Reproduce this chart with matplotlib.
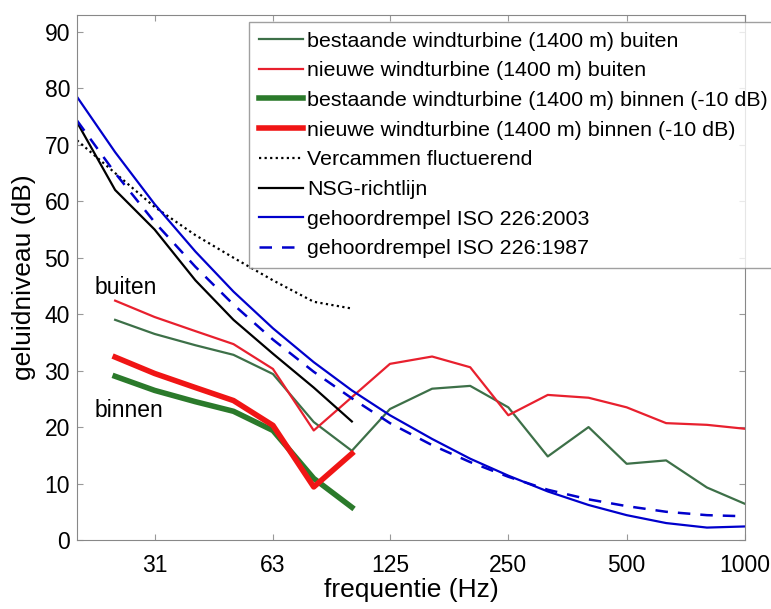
import matplotlib.pyplot as plt

plt.rcParams['font.family'] = ['Liberation Sans', 'DejaVu Sans']

# tertsbanden (Hz)
freq = [20, 25, 31.5, 40, 50, 63, 80, 100, 125, 160, 200, 250, 315, 400, 500, 630, 800, 1000]

# windturbines buiten, 25 Hz - 1000 Hz
freq_wt = freq[1:]
bestaand_buiten = [39.0, 36.5, 34.5, 32.8, 29.4, 20.9, 15.8, 23.2, 26.8, 27.3, 23.5, 14.8, 20.0, 13.5, 14.1, 9.3, 6.4]
nieuw_buiten = [42.4, 39.5, 37.0, 34.7, 30.3, 19.4, 25.3, 31.2, 32.5, 30.6, 22.1, 25.7, 25.2, 23.5, 20.7, 20.4, 19.7]

# binnen (-10 dB), 25 Hz - 100 Hz
freq_binnen = freq[1:8]
bestaand_binnen = [v - 10 for v in bestaand_buiten[:7]]
nieuw_binnen = [v - 10 for v in nieuw_buiten[:7]]

# criteria, 20 Hz - 100 Hz
freq_crit = freq[:8]
vercammen = [70.8, 65.0, 59.0, 54.0, 50.0, 46.0, 42.2, 41.0]
nsg = [74, 62, 55, 46, 39, 33, 27, 21]

# gehoordrempels
iso2003 = [78.5, 68.7, 59.5, 51.1, 44.0, 37.5, 31.5, 26.5, 22.1, 17.9, 14.4, 11.4, 8.6, 6.2, 4.4, 3.0, 2.2, 2.4]
iso1987 = [74.3, 65.0, 56.3, 48.4, 41.7, 35.5, 29.8, 25.1, 20.7, 16.8, 13.8, 11.2, 8.9, 7.2, 6.0, 5.0, 4.4, 4.2]

xticks = [31.5, 63, 125, 250, 500, 1000]
xticklabels = ['31', '63', '125', '250', '500', '1000']

fig = plt.figure(figsize=(7.71, 6.09), dpi=100)
ax = fig.add_axes([0.0999, 0.1133, 0.8664, 0.8621])

groen_dun = '#3d7048'
groen_dik = '#2b7a2b'
rood_dun = '#e8202e'
rood_dik = '#f01515'

ax.plot(freq_wt, bestaand_buiten, color=groen_dun, lw=1.6, label='bestaande windturbine (1400 m) buiten')
ax.plot(freq_wt, nieuw_buiten, color=rood_dun, lw=1.6, label='nieuwe windturbine (1400 m) buiten')
ax.plot(freq_binnen, bestaand_binnen, color=groen_dik, lw=4, label='bestaande windturbine (1400 m) binnen (-10 dB)')
ax.plot(freq_binnen, nieuw_binnen, color=rood_dik, lw=4, label='nieuwe windturbine (1400 m) binnen (-10 dB)')
ax.plot(freq_crit, vercammen, color='black', lw=1.6, ls=(0, (1, 1.5)), label='Vercammen fluctuerend')
ax.plot(freq_crit, nsg, color='black', lw=1.6, label='NSG-richtlijn')
ax.plot(freq, iso2003, color='#0000cc', lw=1.6, label='gehoordrempel ISO 226:2003')
ax.plot(freq, iso1987, color='#0000cc', lw=1.8, ls=(0, (5, 4)), label='gehoordrempel ISO 226:1987')

ax.text(22.2, 44.8, 'buiten', fontsize=16.5, va='center')
ax.text(22.2, 23.0, 'binnen', fontsize=16.5, va='center')

ax.set_xscale('log')
ax.set_xlim(20, 1000)
ax.set_ylim(0, 93)
ax.set_xticks(xticks)
ax.set_xticklabels(xticklabels)
ax.minorticks_off()
ax.set_yticks(range(0, 91, 10))
ax.tick_params(direction='in', top=True, right=True, labelsize=16.5, color='#999999', length=4)
ax.tick_params(axis='x', pad=10)
ax.tick_params(axis='y', pad=5)
for s in ax.spines.values():
    s.set_color('#888888')
ax.set_xlabel('frequentie (Hz)', fontsize=19, labelpad=1)
ax.set_ylabel('geluidniveau (dB)', fontsize=19, labelpad=6)

leg = ax.legend(loc='upper left', bbox_to_anchor=(0.323, 0.964), bbox_transform=fig.transFigure,
                fontsize=15.4, frameon=True, fancybox=False, handlelength=2.05, handletextpad=0.2,
                borderpad=0.45, labelspacing=0.5, borderaxespad=0)
leg.get_frame().set_edgecolor('#888888')
leg.get_frame().set_linewidth(1)

fig.savefig('out.png', dpi=100)
